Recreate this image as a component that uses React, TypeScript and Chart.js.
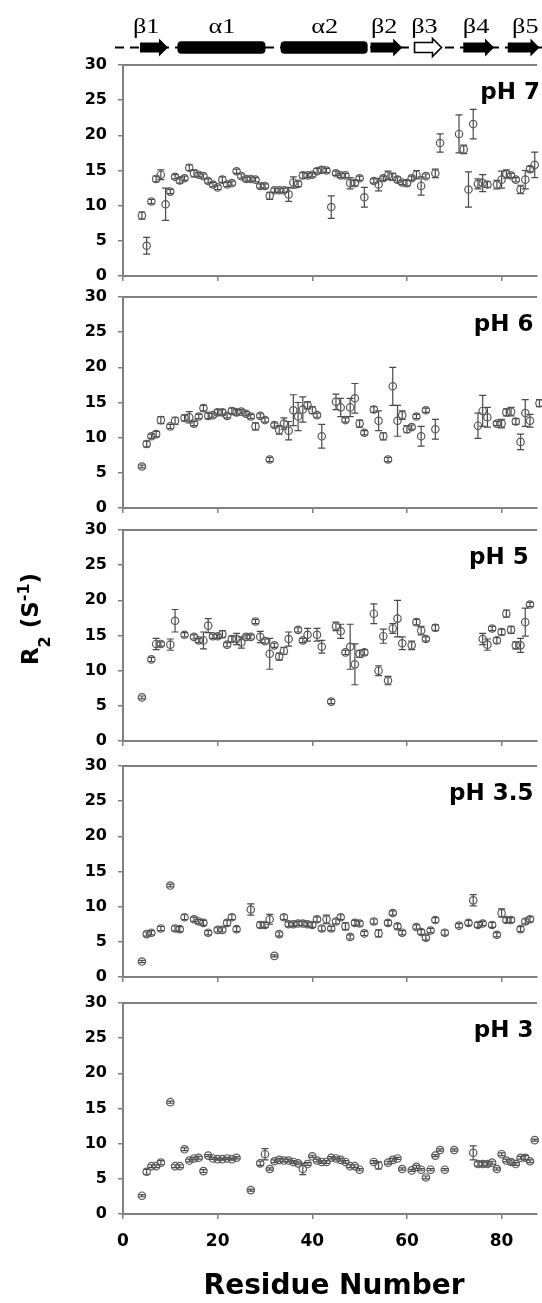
import React, { useEffect, useRef } from 'react';
import { Chart, registerables } from 'chart.js';

Chart.register(...registerables);

// ---------------- data ----------------
const xTickValues = [0, 20, 40, 60, 80];
const yTickValues = [0, 5, 10, 15, 20, 25, 30];
const xAxisTitle = 'Residue Number';

// secondary structure (residue ranges)
const structLabels = ['β1', 'α1', 'α2', 'β2', 'β3', 'β4', 'β5'];
const structKinds = ['strand', 'helix', 'helix', 'strand', 'open', 'strand', 'strand'];
const structStart = [3.6, 11.5, 33.3, 52.3, 61.6, 71.9, 81.3];
const structEnd = [9.5, 30.1, 51.7, 59.0, 67.3, 78.4, 88.0];
const structLabelAt = [4.9, 20.9, 42.6, 55.2, 63.7, 74.6, 85.0];
const backboneStart = -1.7;

// panel labels
const phLabels = ['pH 7', 'pH 6', 'pH 5', 'pH 3.5', 'pH 3'];
const phLabelX = [75.5, 74.1, 73.1, 68.9, 74.1];

// pH 7
const res7 = [4,5,6,7,8,9,10,11,12,13,14,15,16,17,18,19,20,21,22,23,24,25,26,27,28,29,30,31,32,33,34,35,36,37,38,39,40,41,42,43,44,45,46,47,48,49,50,51,53,54,55,56,57,58,59,60,61,62,63,64,66,67,71,72,73,74,75,76,77,79,80,81,82,83,84,85,86,87];
const r2_7 = [8.6,4.3,10.6,13.8,14.4,10.2,12.0,14.1,13.6,13.9, 15.4,14.6,14.4,14.2,13.5,13.0,12.6,13.7,13.0,13.2, 14.9,14.2,13.8,13.8,13.7,12.8,12.8,11.4,12.2,12.2, 12.2,11.6,13.3,13.1,14.3,14.3,14.4,14.9,15.1,15.0, 9.8,14.6,14.3,14.3,13.2,13.2,13.9,11.2, 13.5,13.0,13.9,14.3,14.1,13.7,13.3,13.2,13.9,14.4,12.8,14.2, 14.6,18.9, 20.2,18.0,12.3,21.6,13.1,13.2,13.0, 13.0,13.7,14.5,14.3,13.7,12.3,13.7,15.2,15.8];
const err7 = [0.5,1.2,0.3,0.4,0.7,2.3,0.3,0.3,0.4,0.3, 0.4,0.5,0.3,0.3,0.3,0.3,0.3,0.4,0.3,0.3, 0.3,0.3,0.3,0.3,0.3,0.3,0.3,0.5,0.3,0.3, 0.3,1.0,0.8,0.4,0.4,0.3,0.3,0.4,0.4,0.3, 1.6,0.3,0.3,0.3,0.8,0.4,0.3,1.4, 0.3,0.9,0.3,0.6,0.5,0.4,0.3,0.4,0.3,0.6,1.3,0.3, 0.6,1.3, 2.7,0.6,2.5,2.1,0.7,1.2,0.4, 0.6,1.2,0.6,0.3,0.3,0.6,1.3,0.4,1.8];

// pH 6
const res6 = [4,5,6,7,8,10,11,13,14,15,16,17,18,19,20,21,22,23,24,25,26,27,28,29,30,31,32,33,34,35,36,37,38,39,40,41,42,45,46,47,48,49,50,51,53,54,55,56,57,58,59,60,61,62,63,64,66,75,76,77,79,80,81,82,83,84,85,86,88];
const r2_6 = [5.9,9.1,10.2,10.5,12.5,11.6,12.4, 12.8,12.9,12.0,13.0,14.2,13.1,13.2,13.6,13.6,13.1, 13.8,13.6,13.7,13.4,13.0,11.6,13.1,12.5,6.9,11.8, 11.1,12.0,11.0,13.9,13.0,14.0,14.6,13.9,13.2,10.2, 15.1,14.3,12.5,14.3,15.6,12.0,10.7, 14.0,12.4,10.2,6.9,17.3,12.4,13.2,11.2,11.5,13.0,10.2,13.9, 11.2, 11.7,13.8,12.9, 12.0,12.0,13.6,13.7,12.3,9.4,13.5,12.4, 14.9];
const err6 = [0.2,0.4,0.3,0.4,0.5,0.3,0.5, 0.4,0.8,0.3,0.3,0.4,0.4,0.3,0.4,0.4,0.3, 0.4,0.4,0.3,0.3,0.3,0.5,0.3,0.3,0.3,0.3, 0.6,0.8,1.3,2.2,2.0,1.8,0.5,0.5,0.3,1.7, 1.1,1.3,0.3,1.3,2.1,0.5,0.3, 0.4,1.4,0.5,0.3,2.7,2.2,0.6,0.5,0.3,0.3,1.4,0.3, 1.4, 1.8,2.2,1.4, 0.3,0.6,0.5,0.6,0.4,1.1,1.9,0.9, 0.5];

// pH 5
const res5 = [4,6,7,8,10,11,13,15,16,17,18,19,20,21,22,23,24,25,26,27,28,29,30,31,32,33,34,35,37,38,39,41,42,44,45,46,47,48,49,50,51,53,54,55,56,57,58,59,61,62,63,64,66,76,77,78,79,80,81,82,83,84,85,86];
const r2_5 = [6.2,11.6,13.8,13.8,13.7,17.1,15.1, 14.8,14.3,14.3,16.4,14.9,14.9,15.2,13.7,14.5,14.5, 14.0,14.8,14.8,17.0,14.8,14.2,12.4,13.6,12.0,12.8, 14.5, 15.8,14.3,15.1, 15.1,13.4, 5.6,16.3,15.6,12.6,13.4,10.9,12.4,12.6, 18.1,10.0,14.9,8.6,16.0,17.4,13.9, 13.6,16.9,15.7,14.5, 16.1, 14.5,13.7,16.0,14.3,15.5,18.1,15.8,13.6,13.6,16.9,19.4];
const err5 = [0.2,0.3,0.8,0.3,0.8,1.6,0.3, 0.3,0.3,1.2,1.0,0.3,0.3,0.5,0.3,0.4,0.8, 0.8,0.3,0.3,0.3,0.8,0.3,2.2,0.3,0.5,0.5, 1.0, 0.3,0.3,0.9, 0.9,0.9, 0.3,0.6,1.0,0.3,3.2,2.9,0.5,0.4, 1.4,0.7,1.0,0.6,0.7,2.6,0.9, 0.6,0.4,0.6,0.3, 0.4, 0.8,0.8,0.3,0.4,0.4,0.5,0.5,0.5,1.0,2.0,0.3];

// pH 3.5
const res35 = [4,5,6,8,10,11,12,13,15,16,17,18,20,21,22,23,24,27,29,30,31,32,33,34,35,36,37,38,39,40,41,42,43,44,45,46,47,48,49,50,51,53,54,56,57,58,59,62,63,64,65,66,68,71,73,74,75,76,78,79,80,81,82,84,85,86];
const r2_35 = [2.2,6.1,6.3,6.9, 13.0,6.9,6.8,8.5, 8.2,7.9,7.7,6.3, 6.7,6.7,7.7,8.5,6.8, 9.6, 7.4,7.4,8.2,3.0,6.1,8.5,7.5,7.5,7.6,7.6, 7.5,7.4,8.2,6.9,8.2,6.9,7.9,8.5,7.2,5.7, 7.7,7.6,6.2, 7.9,6.2, 7.7,9.1,7.2,6.3, 7.1,6.4,5.6,6.6,8.1, 6.3, 7.3, 7.7,10.9,7.4,7.6, 7.4,6.0,9.1,8.1,8.1, 6.8,7.9,8.2];
const err35 = [0.15,0.3,0.3,0.3, 0.2,0.35,0.35,0.35, 0.3,0.3,0.35,0.3, 0.3,0.3,0.4,0.35,0.35, 0.8, 0.4,0.35,0.7,0.15,0.3,0.35,0.35,0.3,0.3,0.35, 0.3,0.35,0.35,0.35,0.6,0.3,0.35,0.35,0.5,0.3, 0.35,0.35,0.3, 0.35,0.5, 0.35,0.3,0.35,0.3, 0.3,0.35,0.35,0.3,0.35, 0.35, 0.3, 0.35,0.8,0.35,0.3, 0.35,0.3,0.6,0.35,0.35, 0.35,0.35,0.35];

// pH 3
const res3 = [4,5,6,7,8,10,11,12,13,14,15,16,17,18,19,20,21,22,23,24,27,29,30,31,32,33,34,35,36,37,38,39,40,41,42,43,44,45,46,47,48,49,50,53,54,56,57,58,59,61,62,63,64,65,66,67,68,70,74,75,76,77,78,79,80,81,82,83,84,85,86,87];
const r2_3 = [2.6,6.0,6.8,6.8,7.3, 15.9,6.8,6.8,9.2,7.6,7.9,8.0,6.1,8.3,7.9,7.8,7.8,7.9,7.8,8.0, 3.4, 7.2,8.5,6.4,7.5,7.7,7.6,7.6,7.4,7.2,6.4, 7.1,8.2,7.6,7.4,7.4,8.0,7.9,7.7,7.4,6.8, 6.8,6.3, 7.4,6.9, 7.3,7.7,7.9,6.4, 6.2,6.7,6.3,5.2,6.3,8.3,9.1,6.3, 9.1, 8.7,7.1,7.1,7.1,7.3,6.4,8.5,7.6,7.4,7.1,8.0,8.0,7.5,10.5];
const err3 = [0.15,0.35,0.2,0.2,0.3, 0.15,0.2,0.2,0.2,0.2,0.2,0.2,0.2,0.15,0.15,0.15,0.15,0.15,0.15,0.15, 0.15, 0.3,0.8,0.15,0.2,0.2,0.2,0.2,0.2,0.2,0.8, 0.2,0.15,0.2,0.2,0.2,0.15,0.2,0.2,0.2,0.2, 0.2,0.15, 0.2,0.5, 0.2,0.2,0.15,0.15, 0.15,0.2,0.15,0.2,0.15,0.15,0.15,0.15, 0.15, 1.0,0.3,0.3,0.3,0.2,0.15,0.2,0.2,0.3,0.2,0.2,0.3,0.2,0.15];

const panelRes = [res7, res6, res5, res35, res3];
const panelR2 = [r2_7, r2_6, r2_5, r2_35, r2_3];
const panelErr = [err7, err6, err5, err35, err3];

// ---------------- layout / style ----------------
const W = 542;
const PAGE_H = 1303;
const PLOT_H = 211;
const AXIS_W = 123;
const X_MIN = 0;
const X_MAX = 87.5;
const panelTops = [65, 297, 530, 766, 1003];
const AXIS = '#808080';
const MARK = '#5a5a5a';
const SANS = '"DejaVu Sans", "Liberation Sans", sans-serif';

const errorBarPlugin = {
  id: 'errorBars',
  beforeDatasetsDraw(chart: any) {
    const ctx = chart.ctx;
    const ys = chart.scales.y;
    chart.data.datasets.forEach((ds: any, di: number) => {
      const errs = ds.errors;
      if (!errs) return;
      const meta = chart.getDatasetMeta(di);
      ctx.save();
      ctx.strokeStyle = '#4a4a4a';
      ctx.lineWidth = 1.2;
      meta.data.forEach((pt: any, i: number) => {
        const v = ds.data[i].y;
        const e = errs[i];
        const x = pt.x;
        const yt = ys.getPixelForValue(v + e);
        const yb = ys.getPixelForValue(v - e);
        ctx.beginPath();
        ctx.moveTo(x, yt); ctx.lineTo(x, yb);
        ctx.moveTo(x - 3.5, yt); ctx.lineTo(x + 3.5, yt);
        ctx.moveTo(x - 3.5, yb); ctx.lineTo(x + 3.5, yb);
        ctx.stroke();
      });
      ctx.restore();
    });
  },
};

const topFramePlugin = {
  id: 'topFrame',
  afterDraw(chart: any) {
    const { ctx, chartArea: a } = chart;
    ctx.save();
    ctx.strokeStyle = AXIS;
    ctx.lineWidth = 2;
    ctx.beginPath();
    ctx.moveTo(a.left - 1, a.top);
    ctx.lineTo(a.right, a.top);
    ctx.stroke();
    ctx.restore();
  },
};

function makeLabelPlugin(text: string, xVal: number) {
  return {
    id: 'phLabel',
    afterDraw(chart: any) {
      const { ctx, chartArea: a } = chart;
      ctx.save();
      ctx.font = `bold 23px ${SANS}`;
      ctx.fillStyle = '#000';
      ctx.textAlign = 'left';
      ctx.textBaseline = 'alphabetic';
      ctx.fillText(text, chart.scales.x.getPixelForValue(xVal), a.top + 34);
      ctx.restore();
    },
  };
}

function roundRectPath(ctx: any, x: number, y: number, w: number, h: number, r: number) {
  ctx.beginPath();
  ctx.moveTo(x + r, y);
  ctx.lineTo(x + w - r, y);
  ctx.quadraticCurveTo(x + w, y, x + w, y + r);
  ctx.lineTo(x + w, y + h - r);
  ctx.quadraticCurveTo(x + w, y + h, x + w - r, y + h);
  ctx.lineTo(x + r, y + h);
  ctx.quadraticCurveTo(x, y + h, x, y + h - r);
  ctx.lineTo(x, y + r);
  ctx.quadraticCurveTo(x, y, x + r, y);
  ctx.closePath();
}

const structurePlugin = {
  id: 'structure',
  afterDraw(chart: any) {
    const ctx = chart.ctx;
    const xs = chart.scales.x;
    const yc = 47.5;
    ctx.save();
    ctx.strokeStyle = '#000';
    ctx.lineWidth = 2;
    ctx.setLineDash([9, 6]);
    ctx.beginPath();
    ctx.moveTo(xs.getPixelForValue(backboneStart), yc);
    ctx.lineTo(chart.width, yc);
    ctx.stroke();
    ctx.setLineDash([]);
    structLabels.forEach((lab, i) => {
      const x0 = xs.getPixelForValue(structStart[i]);
      const x1 = xs.getPixelForValue(structEnd[i]);
      const kind = structKinds[i];
      if (kind === 'helix') {
        ctx.fillStyle = '#000';
        roundRectPath(ctx, x0, yc - 6.3, x1 - x0, 12.6, 4);
        ctx.fill();
      } else {
        const head = 9, bh = 5, hh = 9;
        ctx.beginPath();
        ctx.moveTo(x0, yc - bh);
        ctx.lineTo(x1 - head, yc - bh);
        ctx.lineTo(x1 - head, yc - hh);
        ctx.lineTo(x1, yc);
        ctx.lineTo(x1 - head, yc + hh);
        ctx.lineTo(x1 - head, yc + bh);
        ctx.lineTo(x0, yc + bh);
        ctx.closePath();
        if (kind === 'open') {
          ctx.fillStyle = '#fff';
          ctx.fill();
          ctx.lineWidth = 1.6;
          ctx.strokeStyle = '#000';
          ctx.stroke();
        } else {
          ctx.fillStyle = '#000';
          ctx.fill();
        }
      }
      ctx.save();
      ctx.translate(xs.getPixelForValue(structLabelAt[i]), 33);
      ctx.scale(1.25, 1);
      ctx.font = '21px "Liberation Serif", "DejaVu Serif", serif';
      ctx.fillStyle = '#000';
      ctx.textAlign = 'center';
      ctx.textBaseline = 'alphabetic';
      ctx.fillText(lab, 0, 0);
      ctx.restore();
    });
    ctx.restore();
  },
};

function makeYTitlePlugin(canvasTop: number) {
  return {
    id: 'yTitle',
    afterDraw(chart: any) {
      const ctx = chart.ctx;
      const main = `bold 23px ${SANS}`;
      const small = `bold 16px ${SANS}`;
      const parts = [
        { t: 'R', f: main, dy: 0 },
        { t: '2', f: small, dy: 12 },
        { t: ' (S', f: main, dy: 0 },
        { t: '-1', f: small, dy: -9 },
        { t: ')', f: main, dy: 0 },
      ];
      ctx.save();
      let total = 0;
      parts.forEach((p) => { ctx.font = p.f; total += ctx.measureText(p.t).width; });
      ctx.translate(38, 619 - canvasTop);
      ctx.rotate(-Math.PI / 2);
      ctx.fillStyle = '#000';
      ctx.textAlign = 'left';
      ctx.textBaseline = 'alphabetic';
      let x = -total / 2;
      parts.forEach((p) => {
        ctx.font = p.f;
        ctx.fillText(p.t, x, p.dy);
        x += ctx.measureText(p.t).width;
      });
      ctx.restore();
    },
  };
}

function makeXTitlePlugin(canvasTop: number) {
  return {
    id: 'xTitle',
    afterDraw(chart: any) {
      const { ctx, chartArea: a } = chart;
      ctx.save();
      ctx.font = `bold 28px ${SANS}`;
      ctx.fillStyle = '#000';
      ctx.textAlign = 'center';
      ctx.textBaseline = 'alphabetic';
      ctx.fillText(xAxisTitle, (a.left + a.right) / 2 + 4, 1294 - canvasTop);
      ctx.restore();
    },
  };
}

function Panel({ index }: { index: number }) {
  const ref = useRef<HTMLCanvasElement | null>(null);
  const plotTop = panelTops[index];
  const canvasTop = index === 0 ? 0 : plotTop - 10;
  const padTop = plotTop - canvasTop;
  const isLast = index === panelTops.length - 1;
  const axisH = isLast ? PAGE_H - (plotTop + PLOT_H) : 10;
  const height = padTop + PLOT_H + axisH;

  useEffect(() => {
    const canvas = ref.current;
    if (!canvas) return;
    const res = panelRes[index];
    const vals = panelR2[index];
    const plugins: any[] = [errorBarPlugin, topFramePlugin, makeLabelPlugin(phLabels[index], phLabelX[index])];
    if (index === 0) plugins.push(structurePlugin);
    if (index === 2) plugins.push(makeYTitlePlugin(canvasTop));
    if (isLast) plugins.push(makeXTitlePlugin(canvasTop));

    const chart = new Chart(canvas, {
      type: 'scatter',
      data: {
        datasets: [
          {
            data: res.map((r, i) => ({ x: r, y: vals[i] })),
            errors: panelErr[index],
            pointRadius: 3.7,
            pointHoverRadius: 3.7,
            pointBorderWidth: 1.2,
            borderColor: MARK,
            pointBorderColor: MARK,
            backgroundColor: 'rgba(255,255,255,0)',
            pointBackgroundColor: 'rgba(255,255,255,0)',
            showLine: false,
            clip: false,
          } as any,
        ],
      },
      options: {
        responsive: false,
        maintainAspectRatio: false,
        animation: false,
        events: [],
        layout: { padding: { top: padTop, left: 0, right: 0, bottom: 0 } },
        plugins: {
          legend: { display: false },
          tooltip: { enabled: false },
          title: { display: false },
        },
        scales: {
          x: {
            type: 'linear',
            position: 'bottom',
            min: X_MIN,
            max: X_MAX,
            afterBuildTicks: (s: any) => { s.ticks = xTickValues.map((v) => ({ value: v })); },
            afterFit: (s: any) => { s.height = axisH; s.paddingLeft = 0; s.paddingRight = 0; },
            grid: { display: true, drawOnChartArea: false, drawTicks: true, tickLength: 5, color: AXIS, lineWidth: 1.5 },
            border: { display: true, color: AXIS, width: 2 },
            ticks: {
              display: isLast,
              autoSkip: false,
              maxRotation: 0,
              padding: 12,
              color: '#000',
              font: { family: SANS, weight: 'bold', size: 17 },
            },
          },
          y: {
            type: 'linear',
            position: 'left',
            min: 0,
            max: 30,
            afterBuildTicks: (s: any) => { s.ticks = yTickValues.map((v) => ({ value: v })); },
            afterFit: (s: any) => { s.width = AXIS_W; s.paddingTop = 0; s.paddingBottom = 0; },
            grid: { display: true, drawOnChartArea: false, drawTicks: true, tickLength: 5, color: AXIS, lineWidth: 1.5 },
            border: { display: true, color: AXIS, width: 2 },
            ticks: {
              padding: 11,
              color: '#000',
              font: { family: SANS, weight: 'bold', size: 16 },
            },
          },
        },
      } as any,
      plugins,
    });
    return () => chart.destroy();
  }, []);

  return (
    <canvas
      ref={ref}
      width={W}
      height={height}
      style={{ position: 'absolute', left: 0, top: canvasTop, width: W, height, display: 'block' }}
    />
  );
}

export default function App() {
  return (
    <div style={{ position: 'absolute', left: 0, top: 0, width: W, height: PAGE_H, background: '#fff', overflow: 'hidden' }}>
      {panelTops.map((_, i) => (
        <Panel key={i} index={i} />
      ))}
    </div>
  );
}
